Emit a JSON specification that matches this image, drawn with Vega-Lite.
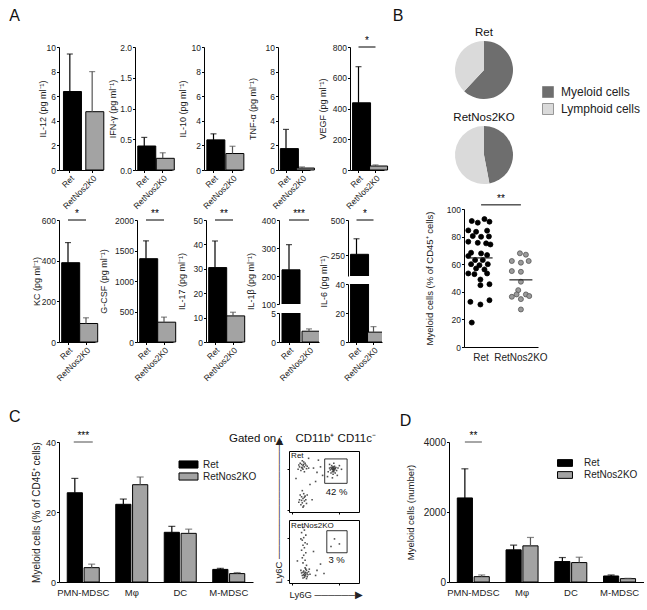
{
"$schema":"https://vega.github.io/schema/vega-lite/v6.json",
"background":"white",
"padding":{"left":8,"top":7,"right":0,"bottom":0},
"config":{
 "font":"Liberation Sans",
 "view":{"stroke":null},
 "axis":{"domainColor":"#000","domainWidth":1,"tickColor":"#000","tickWidth":1,"tickSize":2.5,"labelFont":"Liberation Sans","labelFontSize":8.5,"labelColor":"#222","labelPadding":1,"titleFont":"Liberation Sans","titleFontSize":9,"titleFontWeight":"normal","titleColor":"#222","grid":false,"labelOverlap":false},
 "title":{"font":"Liberation Sans","fontWeight":"normal","color":"#111"},
 "legend":{"labelFont":"Liberation Sans","labelColor":"#222"}
},
"resolve":{"scale":{"fill":"independent","color":"independent"}},
"spacing":26,
"vconcat":[
 {"hconcat":[
  {"title":{"text":"A","anchor":"start","fontSize":16,"fontWeight":"normal","dx":-23,"offset":12},
   "spacing":-2,
   "vconcat":[
    {"spacing":3,"hconcat":[
     {"width":44,"height":123,
      "data":{"values":[{"g":"Ret","v":6.38,"e":9.43},{"g":"RetNos2K0","v":4.74,"e":8.0}]},
      "encoding":{"x":{"field":"g","type":"nominal","scale":{"domain":["Ret","RetNos2K0"],"paddingInner":0.43,"paddingOuter":0.2},"axis":{"title":null,"labelAngle":-45}},
       "y":{"field":"v","type":"quantitative","scale":{"domain":[0,10],"nice":false},"axis":{"values":[0,2,4,6,8,10],"title":"IL-12 (pg ml⁻¹)","titlePadding":-1.5}}},
      "layer":[
       {"mark":{"type":"bar","stroke":"#000","strokeWidth":1},"encoding":{"fill":{"condition":{"test":"datum.g==='Ret'","value":"#000"},"value":"#a3a3a3"}}},
       {"mark":{"type":"rule","strokeWidth":1.2},"encoding":{"y2":{"field":"e"},"color":{"condition":{"test":"datum.g==='Ret'","value":"#000"},"value":"#555"}}},
       {"mark":{"type":"tick","thickness":1.2,"size":6},"encoding":{"y":{"field":"e","type":"quantitative"},"color":{"condition":{"test":"datum.g==='Ret'","value":"#000"},"value":"#555"}}}
      ]},
     {"width":37,"height":123,
      "data":{"values":[{"g":"Ret","v":0.39,"e":0.53},{"g":"RetNos2K0","v":0.19,"e":0.28}]},
      "encoding":{"x":{"field":"g","type":"nominal","scale":{"domain":["Ret","RetNos2K0"],"paddingInner":0.3,"paddingOuter":0.15},"axis":{"title":null,"labelAngle":-45}},
       "y":{"field":"v","type":"quantitative","scale":{"domain":[0,2],"nice":false},"axis":{"values":[0,0.5,1,1.5,2],"format":".1f","title":"IFN-γ (pg ml⁻¹)","titlePadding":1.7}}},
      "layer":[
       {"mark":{"type":"bar","stroke":"#000","strokeWidth":1},"encoding":{"fill":{"condition":{"test":"datum.g==='Ret'","value":"#000"},"value":"#a3a3a3"}}},
       {"mark":{"type":"rule","strokeWidth":1.2},"encoding":{"y2":{"field":"e"},"color":{"condition":{"test":"datum.g==='Ret'","value":"#000"},"value":"#555"}}},
       {"mark":{"type":"tick","thickness":1.2,"size":6},"encoding":{"y":{"field":"e","type":"quantitative"},"color":{"condition":{"test":"datum.g==='Ret'","value":"#000"},"value":"#555"}}}
      ]},
     {"width":38,"height":123,
      "data":{"values":[{"g":"Ret","v":2.45,"e":2.94},{"g":"RetNos2K0","v":1.34,"e":1.93}]},
      "encoding":{"x":{"field":"g","type":"nominal","scale":{"domain":["Ret","RetNos2K0"],"paddingInner":0.3,"paddingOuter":0.15},"axis":{"title":null,"labelAngle":-45}},
       "y":{"field":"v","type":"quantitative","scale":{"domain":[0,10],"nice":false},"axis":{"values":[0,2,4,6,8,10],"title":"IL-10 (pg ml⁻¹)","titlePadding":4}}},
      "layer":[
       {"mark":{"type":"bar","stroke":"#000","strokeWidth":1},"encoding":{"fill":{"condition":{"test":"datum.g==='Ret'","value":"#000"},"value":"#a3a3a3"}}},
       {"mark":{"type":"rule","strokeWidth":1.2},"encoding":{"y2":{"field":"e"},"color":{"condition":{"test":"datum.g==='Ret'","value":"#000"},"value":"#555"}}},
       {"mark":{"type":"tick","thickness":1.2,"size":6},"encoding":{"y":{"field":"e","type":"quantitative"},"color":{"condition":{"test":"datum.g==='Ret'","value":"#000"},"value":"#555"}}}
      ]},
     {"width":32,"height":123,
      "data":{"values":[{"g":"Ret","v":1.74,"e":3.3},{"g":"RetNos2K0","v":0.16,"e":0.25}]},
      "encoding":{"x":{"field":"g","type":"nominal","scale":{"domain":["Ret","RetNos2K0"],"paddingInner":0.3,"paddingOuter":0.15},"axis":{"title":null,"labelAngle":-45}},
       "y":{"field":"v","type":"quantitative","scale":{"domain":[0,10],"nice":false},"axis":{"values":[0,2,4,6,8,10],"title":"TNF-α (pg ml⁻¹)","titlePadding":8}}},
      "layer":[
       {"mark":{"type":"bar","stroke":"#000","strokeWidth":1},"encoding":{"fill":{"condition":{"test":"datum.g==='Ret'","value":"#000"},"value":"#a3a3a3"}}},
       {"mark":{"type":"rule","strokeWidth":1.2},"encoding":{"y2":{"field":"e"},"color":{"condition":{"test":"datum.g==='Ret'","value":"#000"},"value":"#555"}}},
       {"mark":{"type":"tick","thickness":1.2,"size":6},"encoding":{"y":{"field":"e","type":"quantitative"},"color":{"condition":{"test":"datum.g==='Ret'","value":"#000"},"value":"#555"}}}
      ]},
     {"width":34,"height":123,
      "data":{"values":[{"g":"Ret","v":437,"e":672},{"g":"RetNos2K0","v":26,"e":33}]},
      "encoding":{"x":{"field":"g","type":"nominal","scale":{"domain":["Ret","RetNos2K0"],"paddingInner":0.3,"paddingOuter":0.15},"axis":{"title":null,"labelAngle":-45}},
       "y":{"field":"v","type":"quantitative","scale":{"domain":[0,800],"nice":false},"axis":{"values":[0,200,400,600,800],"title":"VEGF (pg ml⁻¹)","titlePadding":5.3}}},
      "layer":[
       {"mark":{"type":"bar","stroke":"#000","strokeWidth":1},"encoding":{"fill":{"condition":{"test":"datum.g==='Ret'","value":"#000"},"value":"#a3a3a3"}}},
       {"mark":{"type":"rule","strokeWidth":1.2},"encoding":{"y2":{"field":"e"},"color":{"condition":{"test":"datum.g==='Ret'","value":"#000"},"value":"#555"}}},
       {"mark":{"type":"tick","thickness":1.2,"size":6},"encoding":{"y":{"field":"e","type":"quantitative"},"color":{"condition":{"test":"datum.g==='Ret'","value":"#000"},"value":"#555"}}},
       {"data":{"values":[{"a":"Ret","b":"RetNos2K0","y":800,"s":"*"}]},"layer":[
        {"mark":{"type":"rule","strokeWidth":1,"color":"#000"},"encoding":{"x":{"field":"a","type":"nominal"},"x2":{"field":"b"},"y":{"field":"y","type":"quantitative"}}},
        {"mark":{"type":"text","baseline":"bottom","dy":-1,"fontSize":10,"color":"#000"},"encoding":{"x":{"field":"a","type":"nominal","bandPosition":1.214},"y":{"field":"y","type":"quantitative"},"text":{"field":"s"}}}
       ]}
      ]}
    ]},
    {"spacing":0,"hconcat":[
     {"width":36,"height":122,
      "data":{"values":[{"g":"Ret","v":390,"e":489},{"g":"RetNos2K0","v":91,"e":119}]},
      "encoding":{"x":{"field":"g","type":"nominal","scale":{"domain":["Ret","RetNos2K0"],"paddingInner":0.3,"paddingOuter":0.15},"axis":{"title":null,"labelAngle":-45}},
       "y":{"field":"v","type":"quantitative","scale":{"domain":[0,600],"nice":false},"axis":{"values":[0,200,400,600],"title":"KC (pg ml⁻¹)","titlePadding":0}}},
      "layer":[
       {"mark":{"type":"bar","stroke":"#000","strokeWidth":1},"encoding":{"fill":{"condition":{"test":"datum.g==='Ret'","value":"#000"},"value":"#a3a3a3"}}},
       {"mark":{"type":"rule","strokeWidth":1.2},"encoding":{"y2":{"field":"e"},"color":{"condition":{"test":"datum.g==='Ret'","value":"#000"},"value":"#555"}}},
       {"mark":{"type":"tick","thickness":1.2,"size":6},"encoding":{"y":{"field":"e","type":"quantitative"},"color":{"condition":{"test":"datum.g==='Ret'","value":"#000"},"value":"#555"}}},
       {"data":{"values":[{"a":"Ret","b":"RetNos2K0","y":600,"s":"*"}]},"layer":[
        {"mark":{"type":"rule","strokeWidth":1,"color":"#000"},"encoding":{"x":{"field":"a","type":"nominal"},"x2":{"field":"b"},"y":{"field":"y","type":"quantitative"}}},
        {"mark":{"type":"text","baseline":"bottom","dy":-1,"fontSize":10,"color":"#000"},"encoding":{"x":{"field":"a","type":"nominal","bandPosition":1.214},"y":{"field":"y","type":"quantitative"},"text":{"field":"s"}}}
       ]}
      ]},
     {"width":36,"height":122,
      "data":{"values":[{"g":"Ret","v":1366,"e":1658},{"g":"RetNos2K0","v":325,"e":408}]},
      "encoding":{"x":{"field":"g","type":"nominal","scale":{"domain":["Ret","RetNos2K0"],"paddingInner":0.3,"paddingOuter":0.15},"axis":{"title":null,"labelAngle":-45}},
       "y":{"field":"v","type":"quantitative","scale":{"domain":[0,2000],"nice":false},"axis":{"values":[0,500,1000,1500,2000],"format":"d","title":"G-CSF (pg ml⁻¹)","titlePadding":5.6}}},
      "layer":[
       {"mark":{"type":"bar","stroke":"#000","strokeWidth":1},"encoding":{"fill":{"condition":{"test":"datum.g==='Ret'","value":"#000"},"value":"#a3a3a3"}}},
       {"mark":{"type":"rule","strokeWidth":1.2},"encoding":{"y2":{"field":"e"},"color":{"condition":{"test":"datum.g==='Ret'","value":"#000"},"value":"#555"}}},
       {"mark":{"type":"tick","thickness":1.2,"size":6},"encoding":{"y":{"field":"e","type":"quantitative"},"color":{"condition":{"test":"datum.g==='Ret'","value":"#000"},"value":"#555"}}},
       {"data":{"values":[{"a":"Ret","b":"RetNos2K0","y":2000,"s":"**"}]},"layer":[
        {"mark":{"type":"rule","strokeWidth":1,"color":"#000"},"encoding":{"x":{"field":"a","type":"nominal"},"x2":{"field":"b"},"y":{"field":"y","type":"quantitative"}}},
        {"mark":{"type":"text","baseline":"bottom","dy":-1,"fontSize":10,"color":"#000"},"encoding":{"x":{"field":"a","type":"nominal","bandPosition":1.214},"y":{"field":"y","type":"quantitative"},"text":{"field":"s"}}}
       ]}
      ]},
     {"width":36,"height":122,
      "data":{"values":[{"g":"Ret","v":30.5,"e":41.4},{"g":"RetNos2K0","v":10.7,"e":12.2}]},
      "encoding":{"x":{"field":"g","type":"nominal","scale":{"domain":["Ret","RetNos2K0"],"paddingInner":0.3,"paddingOuter":0.15},"axis":{"title":null,"labelAngle":-45}},
       "y":{"field":"v","type":"quantitative","scale":{"domain":[0,50],"nice":false},"axis":{"values":[0,10,20,30,40,50],"title":"IL-17 (pg ml⁻¹)","titlePadding":7}}},
      "layer":[
       {"mark":{"type":"bar","stroke":"#000","strokeWidth":1},"encoding":{"fill":{"condition":{"test":"datum.g==='Ret'","value":"#000"},"value":"#a3a3a3"}}},
       {"mark":{"type":"rule","strokeWidth":1.2},"encoding":{"y2":{"field":"e"},"color":{"condition":{"test":"datum.g==='Ret'","value":"#000"},"value":"#555"}}},
       {"mark":{"type":"tick","thickness":1.2,"size":6},"encoding":{"y":{"field":"e","type":"quantitative"},"color":{"condition":{"test":"datum.g==='Ret'","value":"#000"},"value":"#555"}}},
       {"data":{"values":[{"a":"Ret","b":"RetNos2K0","y":50,"s":"**"}]},"layer":[
        {"mark":{"type":"rule","strokeWidth":1,"color":"#000"},"encoding":{"x":{"field":"a","type":"nominal"},"x2":{"field":"b"},"y":{"field":"y","type":"quantitative"}}},
        {"mark":{"type":"text","baseline":"bottom","dy":-1,"fontSize":10,"color":"#000"},"encoding":{"x":{"field":"a","type":"nominal","bandPosition":1.214},"y":{"field":"y","type":"quantitative"},"text":{"field":"s"}}}
       ]}
      ]},
     {"spacing":9,"bounds":"flush","vconcat":[
      {"width":40,"height":84,
       "data":{"values":[{"g":"Ret","v":222,"e":312}]},
       "encoding":{"x":{"field":"g","type":"nominal","scale":{"domain":["Ret","RetNos2K0"],"paddingInner":0.3,"paddingOuter":0.15},"axis":null},
        "y":{"field":"v","type":"quantitative","scale":{"domain":[100,400],"nice":false,"zero":false},"axis":{"values":[100,200,300,400],"title":"IL-1β (pg ml⁻¹)","titlePadding":6.3,"titleY":61}}},
       "layer":[
        {"mark":{"type":"bar","stroke":"#000","strokeWidth":1,"clip":true},"encoding":{"fill":{"value":"#000"}}},
        {"mark":{"type":"rule","strokeWidth":1.2,"color":"#000"},"encoding":{"y2":{"field":"e"}}},
        {"mark":{"type":"tick","thickness":1.2,"size":6,"color":"#000"},"encoding":{"y":{"field":"e","type":"quantitative"}}},
        {"data":{"values":[{"a":"Ret","b":"RetNos2K0","y":400,"s":"***"}]},"layer":[
         {"mark":{"type":"rule","strokeWidth":1,"color":"#000"},"encoding":{"x":{"field":"a","type":"nominal"},"x2":{"field":"b"},"y":{"field":"y","type":"quantitative"}}},
         {"mark":{"type":"text","baseline":"bottom","dy":-1,"fontSize":10,"color":"#000"},"encoding":{"x":{"field":"a","type":"nominal","bandPosition":1.214},"y":{"field":"y","type":"quantitative"},"text":{"field":"s"}}}
        ]}
       ]},
      {"width":40,"height":29,
       "data":{"values":[{"g":"Ret","v":222,"e":312},{"g":"RetNos2K0","v":1.86,"e":2.26}]},
       "encoding":{"x":{"field":"g","type":"nominal","scale":{"domain":["Ret","RetNos2K0"],"paddingInner":0.3,"paddingOuter":0.15},"axis":{"title":null,"labelAngle":-45}},
        "y":{"field":"v","type":"quantitative","scale":{"domain":[0,5],"nice":false},"axis":{"values":[0,5],"title":null}}},
       "layer":[
        {"mark":{"type":"bar","stroke":"#000","strokeWidth":1,"clip":true},"encoding":{"fill":{"condition":{"test":"datum.g==='Ret'","value":"#000"},"value":"#a3a3a3"}}},
        {"mark":{"type":"rule","strokeWidth":1.2,"clip":true},"encoding":{"y2":{"field":"e"},"color":{"condition":{"test":"datum.g==='Ret'","value":"#000"},"value":"#555"}}},
        {"mark":{"type":"tick","thickness":1.2,"size":6,"clip":true},"encoding":{"y":{"field":"e","type":"quantitative"},"color":{"condition":{"test":"datum.g==='Ret'","value":"#000"},"value":"#555"}}}
       ]}
     ]},
     {"spacing":8,"bounds":"flush","vconcat":[
      {"width":34,"height":56,
       "data":{"values":[{"g":"Ret","v":255,"e":366}]},
       "encoding":{"x":{"field":"g","type":"nominal","scale":{"domain":["Ret","RetNos2K0"],"paddingInner":0.3,"paddingOuter":0.15},"axis":null},
        "y":{"field":"v","type":"quantitative","scale":{"domain":[100,500],"nice":false,"zero":false},"axis":{"values":[250,500],"title":"IL-6 (pg ml⁻¹)","titlePadding":2.3,"titleY":61}}},
       "layer":[
        {"mark":{"type":"bar","stroke":"#000","strokeWidth":1,"clip":true},"encoding":{"fill":{"value":"#000"}}},
        {"mark":{"type":"rule","strokeWidth":1.2,"color":"#000"},"encoding":{"y2":{"field":"e"}}},
        {"mark":{"type":"tick","thickness":1.2,"size":6,"color":"#000"},"encoding":{"y":{"field":"e","type":"quantitative"}}},
        {"data":{"values":[{"a":"Ret","b":"RetNos2K0","y":500,"s":"*"}]},"layer":[
         {"mark":{"type":"rule","strokeWidth":1,"color":"#000"},"encoding":{"x":{"field":"a","type":"nominal"},"x2":{"field":"b"},"y":{"field":"y","type":"quantitative"}}},
         {"mark":{"type":"text","baseline":"bottom","dy":-1,"fontSize":10,"color":"#000"},"encoding":{"x":{"field":"a","type":"nominal","bandPosition":1.214},"y":{"field":"y","type":"quantitative"},"text":{"field":"s"}}}
        ]}
       ]},
      {"width":34,"height":58,
       "data":{"values":[{"g":"Ret","v":255,"e":366},{"g":"RetNos2K0","v":6.8,"e":10.6}]},
       "encoding":{"x":{"field":"g","type":"nominal","scale":{"domain":["Ret","RetNos2K0"],"paddingInner":0.3,"paddingOuter":0.15},"axis":{"title":null,"labelAngle":-45}},
        "y":{"field":"v","type":"quantitative","scale":{"domain":[0,40],"nice":false},"axis":{"values":[0,20,40],"title":null}}},
       "layer":[
        {"mark":{"type":"bar","stroke":"#000","strokeWidth":1,"clip":true},"encoding":{"fill":{"condition":{"test":"datum.g==='Ret'","value":"#000"},"value":"#a3a3a3"}}},
        {"mark":{"type":"rule","strokeWidth":1.2,"clip":true},"encoding":{"y2":{"field":"e"},"color":{"condition":{"test":"datum.g==='Ret'","value":"#000"},"value":"#555"}}},
        {"mark":{"type":"tick","thickness":1.2,"size":6,"clip":true},"encoding":{"y":{"field":"e","type":"quantitative"},"color":{"condition":{"test":"datum.g==='Ret'","value":"#000"},"value":"#555"}}}
       ]}
     ]}
    ]}
   ]},
  {"title":{"text":"B","anchor":"start","fontSize":16,"fontWeight":"normal","dx":-32,"offset":3},
   "spacing":9,
   "resolve":{"scale":{"fill":"independent","color":"independent"}},
   "vconcat":[
    {"spacing":12,"vconcat":[
     {"width":40,"height":46,
      "title":{"text":"Ret","fontSize":11.5,"fontWeight":"normal","offset":3},
      "data":{"values":[{"cell":"Myeloid cells","p":62},{"cell":"Lymphoid cells","p":38}]},
      "mark":{"type":"arc","radius":29},
      "encoding":{"theta":{"field":"p","type":"quantitative","stack":true},
       "color":{"field":"cell","type":"nominal","scale":{"domain":["Myeloid cells","Lymphoid cells"],"range":["#6e6e6e","#dadada"]},"legend":{"title":null,"orient":"none","legendX":78,"legendY":39,"symbolType":"square","symbolSize":121,"symbolStrokeColor":"#808080","symbolStrokeWidth":0.8,"labelFontSize":12,"rowPadding":1,"labelOffset":7}},
       "order":{"field":"cell","sort":"descending"}}},
     {"width":40,"height":46,
      "title":{"text":"RetNos2KO","fontSize":11.5,"fontWeight":"normal","offset":3},
      "data":{"values":[{"cell":"Myeloid cells","p":47},{"cell":"Lymphoid cells","p":53}]},
      "mark":{"type":"arc","radius":29},
      "encoding":{"theta":{"field":"p","type":"quantitative","stack":true},
       "color":{"field":"cell","type":"nominal","scale":{"domain":["Myeloid cells","Lymphoid cells"],"range":["#6e6e6e","#dadada"]},"legend":{"title":null,"orient":"none","legendX":78,"legendY":39,"symbolType":"square","symbolSize":121,"symbolStrokeColor":"#808080","symbolStrokeWidth":0.8,"labelFontSize":12,"rowPadding":1,"labelOffset":7}},
       "order":{"field":"cell","sort":"descending"}}}
    ]},
    {"width":74,"height":138,
     "data":{"values":[
      {"grp":"Ret","v":91.3,"jit":-0.67},{"grp":"Ret","v":92.7,"jit":0.24},{"grp":"Ret","v":90.8,"jit":0.6},{"grp":"Ret","v":90.1,"jit":-0.24},
      {"grp":"Ret","v":84.5,"jit":-0.92},{"grp":"Ret","v":83.5,"jit":-0.36},{"grp":"Ret","v":84.3,"jit":0.43},{"grp":"Ret","v":80.4,"jit":-0.6},
      {"grp":"Ret","v":79.9,"jit":0},{"grp":"Ret","v":80.1,"jit":0.56},{"grp":"Ret","v":76.3,"jit":-0.92},{"grp":"Ret","v":75.5,"jit":-0.24},
      {"grp":"Ret","v":75.1,"jit":0.36},{"grp":"Ret","v":74.3,"jit":0.67},{"grp":"Ret","v":68.3,"jit":-0.72},{"grp":"Ret","v":67.8,"jit":0},
      {"grp":"Ret","v":66.6,"jit":0.43},{"grp":"Ret","v":65.9,"jit":-0.92},{"grp":"Ret","v":63,"jit":-0.43},{"grp":"Ret","v":63,"jit":0.12},
      {"grp":"Ret","v":60,"jit":-0.72},{"grp":"Ret","v":59.3,"jit":-0.12},{"grp":"Ret","v":60,"jit":0.48},{"grp":"Ret","v":56.9,"jit":-0.36},
      {"grp":"Ret","v":56.2,"jit":0.24},{"grp":"Ret","v":53.3,"jit":-0.92},{"grp":"Ret","v":52.8,"jit":-0.48},{"grp":"Ret","v":53.3,"jit":0.43},
      {"grp":"Ret","v":48.9,"jit":-0.05},{"grp":"Ret","v":44.8,"jit":-0.05},{"grp":"Ret","v":45.5,"jit":0.6},{"grp":"Ret","v":32.7,"jit":-0.77},
      {"grp":"Ret","v":30.8,"jit":-0.05},{"grp":"Ret","v":33.9,"jit":0.6},{"grp":"Ret","v":17.7,"jit":-0.67},
      {"grp":"RetNos2KO","v":67.9,"jit":-0.07},{"grp":"RetNos2KO","v":66.9,"jit":0.36},{"grp":"RetNos2KO","v":62.3,"jit":-0.65},
      {"grp":"RetNos2KO","v":61.1,"jit":0},{"grp":"RetNos2KO","v":62.3,"jit":0.56},{"grp":"RetNos2KO","v":55,"jit":-0.65},
      {"grp":"RetNos2KO","v":54.5,"jit":0},{"grp":"RetNos2KO","v":47.3,"jit":0},{"grp":"RetNos2KO","v":41.2,"jit":-0.19},
      {"grp":"RetNos2KO","v":36.4,"jit":-0.65},{"grp":"RetNos2KO","v":38.1,"jit":-0.31},{"grp":"RetNos2KO","v":38.1,"jit":0.36},
      {"grp":"RetNos2KO","v":36.9,"jit":0.6},{"grp":"RetNos2KO","v":34.7,"jit":0},{"grp":"RetNos2KO","v":27.2,"jit":0}
     ]},
     "layer":[
      {"mark":{"type":"circle","size":25,"opacity":1,"strokeWidth":0.8},
       "encoding":{
        "x":{"field":"grp","type":"nominal","scale":{"domain":["Ret","RetNos2KO"],"paddingInner":0.3,"paddingOuter":0.08},"axis":{"title":null,"labelAngle":0,"ticks":false,"labelFontSize":10,"labelPadding":5}},
        "xOffset":{"field":"jit","type":"quantitative","scale":{"domain":[-1,1]}},
        "y":{"field":"v","type":"quantitative","scale":{"domain":[0,100],"nice":false},"axis":{"values":[0,20,40,60,80,100],"title":"Myeloid cells (% of CD45⁺ cells)","titleFontSize":9.5,"titlePadding":11.5,"labelOverlap":false,"labelBound":false,"labelFlush":false}},
        "fill":{"condition":{"test":"datum.grp==='Ret'","value":"#000"},"value":"#9a9a9a"},
        "stroke":{"condition":{"test":"datum.grp==='Ret'","value":"#000"},"value":"#555"}}},
      {"mark":{"type":"tick","thickness":1.2,"size":23,"color":"#222"},
       "encoding":{"x":{"field":"grp","type":"nominal"},"y":{"aggregate":"mean","field":"v","type":"quantitative","axis":{"values":[0,20,40,60,80,100],"title":"Myeloid cells (% of CD45⁺ cells)","titleFontSize":9.5,"titlePadding":11.5,"labelOverlap":false,"labelBound":false,"labelFlush":false}}}},
      {"data":{"values":[{"a":"Ret","b":"RetNos2KO","y":103,"s":"**"}]},"layer":[
       {"mark":{"type":"rule","strokeWidth":1,"color":"#000"},"encoding":{"x":{"field":"a","type":"nominal"},"x2":{"field":"b"},"y":{"field":"y","type":"quantitative","axis":{"values":[0,20,40,60,80,100],"title":"Myeloid cells (% of CD45⁺ cells)","titleFontSize":9.5,"titlePadding":11.5,"labelOverlap":false,"labelBound":false,"labelFlush":false}}}},
       {"mark":{"type":"text","baseline":"bottom","dy":-1,"fontSize":10,"color":"#000"},"encoding":{"x":{"field":"a","type":"nominal","bandPosition":1.214},"y":{"field":"y","type":"quantitative","axis":{"values":[0,20,40,60,80,100],"title":"Myeloid cells (% of CD45⁺ cells)","titleFontSize":9.5,"titlePadding":11.5,"labelOverlap":false,"labelBound":false,"labelFlush":false}},"text":{"field":"s"}}}
      ]}
     ]}
   ]}
 ],"spacing":3,"resolve":{"scale":{"fill":"independent","color":"independent"}}},
 {"hconcat":[
  {"title":{"text":"C","anchor":"start","fontSize":16,"fontWeight":"normal","dx":-23,"offset":6},
   "resolve":{"scale":{"fill":"independent","color":"independent"}},
   "vconcat":[
    {"title":{"text":"Gated on :\u00a0\u00a0\u00a0\u00a0CD11b⁺ CD11c⁻","anchor":"end","fontSize":11.5,"fontWeight":"normal","dx":13,"offset":0,"dy":13},
     "spacing":15,
     "resolve":{"scale":{"fill":"independent","color":"independent"}},
     "hconcat":[
      {"width":194,"height":140,
       "data":{"values":[
        {"c":"PMN-MDSC","g":"Ret","v":25.5,"e":29.6},{"c":"PMN-MDSC","g":"RetNos2KO","v":4.1,"e":5.1},
        {"c":"Mφ","g":"Ret","v":22.2,"e":23.7},{"c":"Mφ","g":"RetNos2KO","v":27.8,"e":30.0},
        {"c":"DC","g":"Ret","v":14.2,"e":15.9},{"c":"DC","g":"RetNos2KO","v":13.9,"e":15.1},
        {"c":"M-MDSC","g":"Ret","v":3.6,"e":3.9},{"c":"M-MDSC","g":"RetNos2KO","v":2.4,"e":2.7}
       ]},
       "layer":[
        {"mark":{"type":"bar","stroke":"#000","strokeWidth":1},
         "encoding":{
          "x":{"field":"c","type":"nominal","scale":{"domain":["PMN-MDSC","Mφ","DC","M-MDSC"],"paddingInner":0.34,"paddingOuter":0.17},"axis":{"title":null,"labelAngle":0,"ticks":false,"labelPadding":5,"labelFontSize":9.5}},
          "xOffset":{"field":"g","type":"nominal","scale":{"domain":["Ret","RetNos2KO"],"paddingInner":0.1}},
          "y":{"field":"v","type":"quantitative","scale":{"domain":[0,40],"nice":false},"axis":{"values":[0,10,20,30,40],"title":"Myeloid cells (% of CD45⁺ cells)","titlePadding":3.5,"titleFontSize":10,"labelFontSize":9}},
          "fill":{"field":"g","type":"nominal","scale":{"domain":["Ret","RetNos2KO"],"range":["#000","#a3a3a3"]},"legend":{"title":null,"orient":"none","legendX":124,"legendY":17,"symbolType":"M-2,-0.75H2V0.75H-2Z","symbolSize":90,"symbolStrokeColor":"#000","symbolStrokeWidth":1,"labelFontSize":10,"rowPadding":-3,"labelOffset":9}}}},
        {"mark":{"type":"rule","strokeWidth":1.2},
         "encoding":{"x":{"field":"c","type":"nominal"},"xOffset":{"field":"g","type":"nominal"},"y":{"field":"v","type":"quantitative"},"y2":{"field":"e"},"color":{"condition":{"test":"datum.g==='Ret'","value":"#000"},"value":"#555"}}},
        {"mark":{"type":"tick","thickness":1.2,"size":7},
         "encoding":{"x":{"field":"c","type":"nominal"},"xOffset":{"field":"g","type":"nominal"},"y":{"field":"e","type":"quantitative"},"color":{"condition":{"test":"datum.g==='Ret'","value":"#000"},"value":"#555"}}},
        {"data":{"values":[{"c":"PMN-MDSC","y":40,"s":"***"}]},"layer":[
         {"mark":{"type":"tick","thickness":1,"size":19,"color":"#000"},"encoding":{"x":{"field":"c","type":"nominal"},"y":{"field":"y","type":"quantitative"}}},
         {"mark":{"type":"text","baseline":"bottom","dy":-1,"fontSize":10,"color":"#000"},"encoding":{"x":{"field":"c","type":"nominal"},"y":{"field":"y","type":"quantitative"},"text":{"field":"s"}}}
        ]}
       ]},
      {"spacing":8,"bounds":"flush","vconcat":[
       {"width":70,"height":1,"data":{"values":[{"a":1}]},"mark":{"type":"point","opacity":0},"encoding":{}},
       {"width":70,"height":61,
        "view":{"stroke":"#000","strokeWidth":1},
        "layer":[
         {"data":{"values":[
          {"x":18,"y":78},{"x":20,"y":76},{"x":22,"y":74},{"x":16,"y":80},{"x":24,"y":77},{"x":19,"y":72},{"x":21,"y":82},{"x":15,"y":74},{"x":25,"y":71},{"x":17,"y":68},
          {"x":23,"y":80},{"x":20,"y":70},{"x":14,"y":77},{"x":26,"y":75},{"x":19,"y":84},{"x":22,"y":66},{"x":18,"y":73},{"x":21,"y":78},{"x":28,"y":72},{"x":13,"y":70},
          {"x":18,"y":25},{"x":20,"y":22},{"x":22,"y":18},{"x":16,"y":28},{"x":24,"y":20},{"x":19,"y":15},{"x":21,"y":30},{"x":17,"y":12},{"x":23,"y":26},{"x":20,"y":8},
          {"x":15,"y":20},{"x":25,"y":14},{"x":19,"y":35},{"x":22,"y":24},{"x":18,"y":19},{"x":26,"y":28},{"x":14,"y":16},{"x":21,"y":10},
          {"x":62,"y":70},{"x":64,"y":72},{"x":63,"y":68},{"x":61,"y":71},{"x":65,"y":69},{"x":60,"y":73},{"x":66,"y":71},{"x":63,"y":74},{"x":62,"y":66},{"x":64,"y":66},
          {"x":59,"y":69},{"x":67,"y":73},{"x":61,"y":76},{"x":65,"y":75},{"x":58,"y":72},{"x":68,"y":68},{"x":63,"y":62},{"x":60,"y":64},{"x":66,"y":64},{"x":70,"y":72},
          {"x":56,"y":66},{"x":72,"y":76},{"x":64,"y":80},{"x":58,"y":78},{"x":69,"y":60},{"x":55,"y":58},{"x":75,"y":70},{"x":62,"y":56},{"x":63,"y":71},{"x":64,"y":69},
          {"x":62,"y":73},{"x":65,"y":72},
          {"x":35,"y":72},{"x":40,"y":65},{"x":45,"y":74},{"x":38,"y":50},{"x":30,"y":45},{"x":48,"y":60},{"x":10,"y":55},{"x":33,"y":20},{"x":42,"y":85},{"x":28,"y":88}
         ]},
          "mark":{"type":"square","size":2.5,"color":"#333","opacity":0.85},
          "encoding":{"x":{"field":"x","type":"quantitative","scale":{"domain":[0,100],"nice":false},"axis":{"title":null,"labels":false,"domain":false,"tickSize":2,"values":[4,9,12,14,16,17,18,40,52,58,62,65,67,69,71]}},
           "y":{"field":"y","type":"quantitative","scale":{"domain":[0,100],"nice":false},"axis":{"title":null,"labels":false,"domain":false,"tickSize":2,"values":[4,9,12,14,16,17,18,40,52,58,62,65,67,69,71]}}}},
         {"data":{"values":[{"x1":51,"x2":83,"y1":47,"y2":87}]},
          "mark":{"type":"rect","filled":false,"color":"#000","strokeWidth":0.8},
          "encoding":{"x":{"field":"x1","type":"quantitative"},"x2":{"field":"x2"},"y":{"field":"y1","type":"quantitative"},"y2":{"field":"y2"}}},
         {"data":{"values":[{"x":68,"y":32,"t":"42 %"}]},
          "mark":{"type":"text","fontSize":9.5,"color":"#111"},
          "encoding":{"x":{"field":"x","type":"quantitative"},"y":{"field":"y","type":"quantitative"},"text":{"field":"t"}}},
         {"data":{"values":[{"x":3,"y":91,"t":"Ret"}]},
          "mark":{"type":"text","fontSize":8,"align":"left","color":"#111"},
          "encoding":{"x":{"field":"x","type":"quantitative"},"y":{"field":"y","type":"quantitative"},"text":{"field":"t"}}}
        ]},
       {"width":70,"height":63,
        "view":{"stroke":"#000","strokeWidth":1},
        "layer":[
         {"data":{"values":[
          {"x":20,"y":88},{"x":22,"y":84},{"x":18,"y":80},{"x":24,"y":76},{"x":21,"y":72},{"x":19,"y":68},{"x":23,"y":64},{"x":20,"y":60},{"x":22,"y":56},{"x":18,"y":52},
          {"x":24,"y":48},{"x":21,"y":44},{"x":19,"y":40},{"x":23,"y":36},{"x":20,"y":32},{"x":25,"y":28},{"x":17,"y":70},{"x":26,"y":62},
          {"x":22,"y":15},{"x":24,"y":13},{"x":20,"y":17},{"x":26,"y":16},{"x":23,"y":11},{"x":21,"y":19},{"x":25,"y":20},{"x":19,"y":12},{"x":27,"y":13},{"x":22,"y":9},
          {"x":24,"y":22},{"x":18,"y":16},{"x":28,"y":18},{"x":20,"y":8},{"x":26,"y":10},{"x":23,"y":24},{"x":30,"y":14},{"x":17,"y":20},{"x":29,"y":22},{"x":25,"y":7},
          {"x":21,"y":13},{"x":23,"y":17},{"x":22,"y":12},{"x":24,"y":16},
          {"x":65,"y":70},{"x":72,"y":62},{"x":60,"y":58},
          {"x":40,"y":20},{"x":45,"y":30},{"x":35,"y":50},{"x":50,"y":15},{"x":12,"y":35},{"x":38,"y":12}
         ]},
          "mark":{"type":"square","size":2.5,"color":"#333","opacity":0.85},
          "encoding":{"x":{"field":"x","type":"quantitative","scale":{"domain":[0,100],"nice":false},"axis":{"title":"Ly6G ──────▶","titleAnchor":"start","titlePadding":4,"titleFontSize":9.5,"labels":false,"domain":false,"tickSize":2,"values":[4,9,12,14,16,17,18,40,52,58,62,65,67,69,71]}},
           "y":{"field":"y","type":"quantitative","scale":{"domain":[0,100],"nice":false},"axis":{"title":"Ly6C ─────────────────▶","titleAnchor":"start","titlePadding":3.3,"titleFontSize":9.5,"labels":false,"domain":false,"tickSize":2,"values":[4,9,12,14,16,17,18,40,52,58,62,65,67,69,71]}}}},
         {"data":{"values":[{"x1":54,"x2":83,"y1":48,"y2":83}]},
          "mark":{"type":"rect","filled":false,"color":"#000","strokeWidth":0.8},
          "encoding":{"x":{"field":"x1","type":"quantitative"},"x2":{"field":"x2"},"y":{"field":"y1","type":"quantitative"},"y2":{"field":"y2"}}},
         {"data":{"values":[{"x":68,"y":36,"t":"3 %"}]},
          "mark":{"type":"text","fontSize":9.5,"color":"#111"},
          "encoding":{"x":{"field":"x","type":"quantitative"},"y":{"field":"y","type":"quantitative"},"text":{"field":"t"}}},
         {"data":{"values":[{"x":3,"y":91,"t":"RetNos2KO"}]},
          "mark":{"type":"text","fontSize":8,"align":"left","color":"#111"},
          "encoding":{"x":{"field":"x","type":"quantitative"},"y":{"field":"y","type":"quantitative"},"text":{"field":"t"}}}
        ]}
      ]}
     ]}
   ]},
  {"title":{"text":"D","anchor":"start","fontSize":16,"fontWeight":"normal","dx":-6,"offset":2},
   "width":195,"height":140,
   "data":{"values":[
    {"c":"PMN-MDSC","g":"Ret","v":2402,"e":3234},{"c":"PMN-MDSC","g":"RetNos2KO","v":153,"e":201},
    {"c":"Mφ","g":"Ret","v":919,"e":1053},{"c":"Mφ","g":"RetNos2KO","v":1033,"e":1273},
    {"c":"DC","g":"Ret","v":584,"e":699},{"c":"DC","g":"RetNos2KO","v":555,"e":708},
    {"c":"M-MDSC","g":"Ret","v":172,"e":201},{"c":"M-MDSC","g":"RetNos2KO","v":96,"e":105}
   ]},
   "layer":[
    {"mark":{"type":"bar","stroke":"#000","strokeWidth":1},
     "encoding":{
      "x":{"field":"c","type":"nominal","scale":{"domain":["PMN-MDSC","Mφ","DC","M-MDSC"],"paddingInner":0.34,"paddingOuter":0.17},"axis":{"title":null,"labelAngle":0,"ticks":false,"labelPadding":5,"labelFontSize":9.5}},
      "xOffset":{"field":"g","type":"nominal","scale":{"domain":["Ret","RetNos2KO"],"paddingInner":0.1}},
      "y":{"field":"v","type":"quantitative","scale":{"domain":[0,4000],"nice":false},"axis":{"values":[0,1000,2000,3000,4000],"format":"d","title":"Myeloid cells (number)","titlePadding":7.5,"titleFontSize":9.5,"labelFontSize":10}},
      "fill":{"field":"g","type":"nominal","scale":{"domain":["Ret","RetNos2KO"],"range":["#000","#a3a3a3"]},"legend":{"title":null,"orient":"none","legendX":111,"legendY":16,"symbolType":"M-2,-0.9H2V0.9H-2Z","symbolSize":56,"symbolStrokeColor":"#000","symbolStrokeWidth":1,"labelFontSize":10,"rowPadding":0,"labelOffset":14}}}},
    {"mark":{"type":"rule","strokeWidth":1.2},
     "encoding":{"x":{"field":"c","type":"nominal"},"xOffset":{"field":"g","type":"nominal"},"y":{"field":"v","type":"quantitative"},"y2":{"field":"e"},"color":{"condition":{"test":"datum.g==='Ret'","value":"#000"},"value":"#555"}}},
    {"mark":{"type":"tick","thickness":1.2,"size":7},
     "encoding":{"x":{"field":"c","type":"nominal"},"xOffset":{"field":"g","type":"nominal"},"y":{"field":"e","type":"quantitative"},"color":{"condition":{"test":"datum.g==='Ret'","value":"#000"},"value":"#555"}}},
    {"data":{"values":[{"c":"PMN-MDSC","y":4000,"s":"**"}]},"layer":[
     {"mark":{"type":"tick","thickness":1,"size":17,"color":"#000"},"encoding":{"x":{"field":"c","type":"nominal"},"y":{"field":"y","type":"quantitative"}}},
     {"mark":{"type":"text","baseline":"bottom","dy":-1,"fontSize":10,"color":"#000"},"encoding":{"x":{"field":"c","type":"nominal"},"y":{"field":"y","type":"quantitative"},"text":{"field":"s"}}}
    ]}
   ]}
 ],"spacing":23,"resolve":{"scale":{"fill":"independent","color":"independent"}}}
]
}
